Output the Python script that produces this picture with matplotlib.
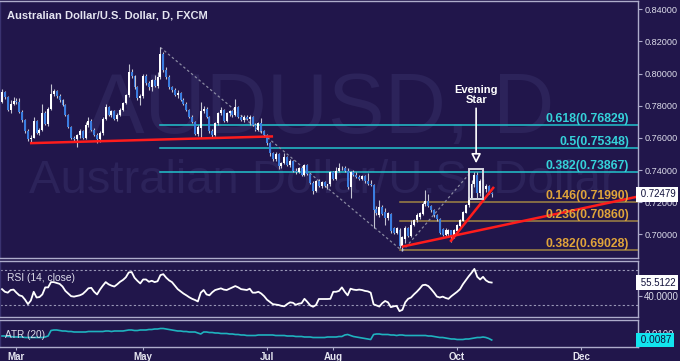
import matplotlib
matplotlib.use("Agg")
import matplotlib.pyplot as plt
import matplotlib.transforms as mtransforms
from matplotlib.patches import Rectangle
import numpy as np
import pandas as pd

# ------------------------------------------------------------------ data
start_date = "2015-02-23"
end_date = "2015-10-19"

opens = [0.7825, 0.7885, 0.7855, 0.7775, 0.7812, 0.7832, 0.7822, 0.7762, 0.7709, 0.7640,
         0.7590, 0.7602, 0.7705, 0.7632, 0.7648, 0.7752, 0.7685, 0.7780, 0.7875, 0.7892,
         0.7862, 0.7835, 0.7802, 0.7742, 0.7668, 0.7602, 0.7592, 0.7615, 0.7642, 0.7600,
         0.7680, 0.7705, 0.7650, 0.7620, 0.7590, 0.7630, 0.7720, 0.7790, 0.7742, 0.7765,
         0.7718, 0.7745, 0.7775, 0.7818, 0.7865, 0.8010, 0.7985, 0.7918, 0.7845, 0.7858,
         0.7985, 0.7940, 0.7915, 0.7958, 0.7922, 0.7978, 0.8120, 0.8022, 0.7978, 0.7916,
         0.7898, 0.7865, 0.7880, 0.7835, 0.7813, 0.7772, 0.7730, 0.7699, 0.7627, 0.7660,
         0.7770, 0.7781, 0.7730, 0.7640, 0.7620, 0.7690, 0.7752, 0.7776, 0.7705, 0.7752,
         0.7765, 0.7740, 0.7792, 0.7732, 0.7710, 0.7730, 0.7715, 0.7728, 0.7682, 0.7650,
         0.7690, 0.7642, 0.7615, 0.7565, 0.7503, 0.7466, 0.7500, 0.7425, 0.7445, 0.7480,
         0.7430, 0.7458, 0.7396, 0.7386, 0.7415, 0.7370, 0.7430, 0.7376, 0.7320, 0.7268,
         0.7330, 0.7300, 0.7325, 0.7300, 0.7310, 0.7385, 0.7345, 0.7392, 0.7410, 0.7415,
         0.7395, 0.7295, 0.7388, 0.7370, 0.7357, 0.7342, 0.7360, 0.7330, 0.7312, 0.7305,
         0.7160, 0.7120, 0.7170, 0.7140, 0.7100, 0.7125, 0.7040, 0.7010, 0.7030, 0.6930,
         0.6970, 0.7037, 0.6992, 0.7060, 0.7090, 0.7110, 0.7125, 0.7188, 0.7205, 0.7175,
         0.7150, 0.7120, 0.7095, 0.7035, 0.6998, 0.7000, 0.7025, 0.6992, 0.7022, 0.7052,
         0.7085, 0.7135, 0.7180, 0.7225, 0.7310, 0.7372, 0.7258, 0.7330, 0.7280, 0.7300,
         0.7255]
highs = [0.7905, 0.7892, 0.7862, 0.7833, 0.7855, 0.7846, 0.7850, 0.7775, 0.7716, 0.7652,
         0.7615, 0.7730, 0.7712, 0.7662, 0.7810, 0.7765, 0.7790, 0.7937, 0.7905, 0.7898,
         0.7870, 0.7842, 0.7810, 0.7750, 0.7675, 0.7612, 0.7625, 0.7655, 0.7650, 0.7700,
         0.7730, 0.7715, 0.7660, 0.7630, 0.7640, 0.7730, 0.7810, 0.7800, 0.7775, 0.7775,
         0.7752, 0.7785, 0.7825, 0.7870, 0.8060, 0.8025, 0.7992, 0.7925, 0.7870, 0.8000,
         0.8000, 0.7955, 0.7965, 0.7990, 0.8010, 0.8162, 0.8135, 0.8040, 0.7990, 0.7925,
         0.7910, 0.7895, 0.7888, 0.7845, 0.7820, 0.7780, 0.7740, 0.7705, 0.7680, 0.7825,
         0.7795, 0.7790, 0.7738, 0.7655, 0.7700, 0.7762, 0.7792, 0.7782, 0.7760, 0.7775,
         0.7772, 0.7843, 0.7800, 0.7740, 0.7740, 0.7742, 0.7740, 0.7738, 0.7695, 0.7698,
         0.7725, 0.7650, 0.7625, 0.7572, 0.7515, 0.7510, 0.7508, 0.7452, 0.7505, 0.7488,
         0.7468, 0.7462, 0.7410, 0.7420, 0.7422, 0.7438, 0.7436, 0.7382, 0.7330, 0.7335,
         0.7342, 0.7332, 0.7330, 0.7315, 0.7395, 0.7392, 0.7420, 0.7441, 0.7425, 0.7422,
         0.7410, 0.7395, 0.7398, 0.7385, 0.7372, 0.7368, 0.7366, 0.7380, 0.7340, 0.7312,
         0.7175, 0.7215, 0.7182, 0.7165, 0.7138, 0.7132, 0.7048, 0.7045, 0.7038, 0.6992,
         0.7050, 0.7045, 0.7090, 0.7098, 0.7135, 0.7138, 0.7200, 0.7275, 0.7250, 0.7182,
         0.7160, 0.7128, 0.7100, 0.7040, 0.7040, 0.7035, 0.7030, 0.7032, 0.7065, 0.7095,
         0.7148, 0.7188, 0.7238, 0.7340, 0.7386, 0.7385, 0.7345, 0.7342, 0.7312, 0.7306,
         0.7262]
lows = [0.7815, 0.7840, 0.7765, 0.7755, 0.7805, 0.7812, 0.7755, 0.7700, 0.7630, 0.7578,
        0.7567, 0.7598, 0.7625, 0.7620, 0.7640, 0.7678, 0.7675, 0.7772, 0.7860, 0.7850,
        0.7825, 0.7795, 0.7735, 0.7660, 0.7590, 0.7575, 0.7544, 0.7600, 0.7590, 0.7595,
        0.7665, 0.7640, 0.7610, 0.7568, 0.7575, 0.7620, 0.7710, 0.7735, 0.7732, 0.7710,
        0.7705, 0.7738, 0.7765, 0.7810, 0.7855, 0.7975, 0.7905, 0.7835, 0.7805, 0.7848,
        0.7930, 0.7900, 0.7892, 0.7915, 0.7910, 0.7965, 0.8010, 0.7965, 0.7905, 0.7885,
        0.7858, 0.7850, 0.7828, 0.7805, 0.7765, 0.7722, 0.7690, 0.7615, 0.7610, 0.7600,
        0.7755, 0.7722, 0.7630, 0.7605, 0.7612, 0.7680, 0.7742, 0.7698, 0.7698, 0.7735,
        0.7730, 0.7735, 0.7725, 0.7702, 0.7700, 0.7708, 0.7680, 0.7675, 0.7642, 0.7640,
        0.7630, 0.7608, 0.7558, 0.7490, 0.7458, 0.7455, 0.7405, 0.7415, 0.7435, 0.7422,
        0.7420, 0.7390, 0.7378, 0.7380, 0.7365, 0.7362, 0.7370, 0.7315, 0.7250, 0.7262,
        0.7295, 0.7288, 0.7295, 0.7285, 0.7300, 0.7340, 0.7338, 0.7385, 0.7398, 0.7385,
        0.7280, 0.7223, 0.7362, 0.7350, 0.7338, 0.7335, 0.7322, 0.7305, 0.7298, 0.7037,
        0.7118, 0.7105, 0.7120, 0.7058, 0.7090, 0.7010, 0.7002, 0.7000, 0.6915, 0.6896,
        0.6945, 0.6985, 0.6985, 0.7050, 0.7078, 0.7098, 0.7118, 0.7175, 0.7168, 0.7140,
        0.7110, 0.7085, 0.7000, 0.6990, 0.6985, 0.6982, 0.6955, 0.6980, 0.7015, 0.7045,
        0.7080, 0.7130, 0.7172, 0.7218, 0.7295, 0.7228, 0.7240, 0.7270, 0.7262, 0.7250,
        0.7235]
closes = [0.7885, 0.7855, 0.7775, 0.7812, 0.7832, 0.7822, 0.7762, 0.7709, 0.7640, 0.7590,
          0.7602, 0.7705, 0.7632, 0.7648, 0.7752, 0.7685, 0.7780, 0.7875, 0.7892, 0.7862,
          0.7835, 0.7802, 0.7742, 0.7668, 0.7602, 0.7592, 0.7615, 0.7642, 0.7600, 0.7680,
          0.7705, 0.7650, 0.7620, 0.7590, 0.7630, 0.7720, 0.7790, 0.7742, 0.7765, 0.7718,
          0.7745, 0.7775, 0.7818, 0.7865, 0.8010, 0.7985, 0.7918, 0.7845, 0.7858, 0.7985,
          0.7940, 0.7915, 0.7958, 0.7922, 0.7978, 0.8120, 0.8022, 0.7978, 0.7916, 0.7898,
          0.7865, 0.7880, 0.7835, 0.7813, 0.7772, 0.7730, 0.7699, 0.7627, 0.7668, 0.7770,
          0.7781, 0.7730, 0.7640, 0.7620, 0.7690, 0.7752, 0.7776, 0.7705, 0.7752, 0.7765,
          0.7740, 0.7792, 0.7732, 0.7710, 0.7730, 0.7715, 0.7728, 0.7682, 0.7650, 0.7690,
          0.7642, 0.7615, 0.7565, 0.7503, 0.7466, 0.7500, 0.7425, 0.7445, 0.7480, 0.7430,
          0.7458, 0.7396, 0.7386, 0.7415, 0.7370, 0.7430, 0.7376, 0.7320, 0.7268, 0.7330,
          0.7300, 0.7325, 0.7300, 0.7310, 0.7385, 0.7345, 0.7392, 0.7410, 0.7415, 0.7395,
          0.7295, 0.7388, 0.7370, 0.7357, 0.7342, 0.7360, 0.7330, 0.7312, 0.7305, 0.7151,
          0.7130, 0.7170, 0.7128, 0.7100, 0.7130, 0.7018, 0.7010, 0.7040, 0.6930, 0.6985,
          0.7037, 0.6992, 0.7060, 0.7090, 0.7120, 0.7130, 0.7188, 0.7205, 0.7175, 0.7150,
          0.7120, 0.7095, 0.7008, 0.6998, 0.7030, 0.7027, 0.6992, 0.7027, 0.7058, 0.7089,
          0.7140, 0.7182, 0.7230, 0.7316, 0.7372, 0.7258, 0.7330, 0.7280, 0.7300, 0.7255,
          0.7248]

rsi_values = [48, 45, 44, 47, 47.5, 44, 41, 40, 36, 31,
              35, 45, 38.5, 39, 42, 50, 50, 56, 56, 55,
              54, 51, 46, 43, 40, 39.5, 40.2, 41, 42.5, 45.5,
              49, 49.5, 45, 42, 47.5, 52, 56, 53.5, 52, 51,
              53.5, 56.4, 58.5, 61.5, 67, 67.5, 61, 57.5, 54.5, 59,
              59, 56.4, 57.5, 56, 57, 64, 65, 61, 58, 56,
              52, 48, 45.5, 43, 41, 38.8, 37, 35.7, 34, 44,
              47, 42, 41, 44.5, 47, 48, 48.9, 47.5, 47, 48.5,
              50, 51.5, 50, 48, 47.5, 47, 48.5, 44, 44, 45,
              43, 40, 36, 33.5, 31, 30.5, 30, 29, 28.5, 31,
              33, 32.5, 30.2, 31.5, 32, 37, 33.5, 29.5, 28, 30,
              36.8, 36.8, 36.8, 36.8, 37, 45, 45, 46, 50, 45,
              41, 48.5, 47.5, 47, 47.5, 47, 46, 45.5, 44, 30.8,
              29.5, 28.2, 32, 34.5, 33, 27.5, 28.5, 29, 23, 24.5,
              33, 37, 38.5, 42, 45, 48.5, 52.5, 53, 51.5, 48,
              44, 39.5, 38.5, 39.5, 38, 37, 40, 42.5, 45, 48,
              53.5, 58, 62.5, 66.5, 71, 62, 59, 62, 58, 56,
              55.5122]

atr_values = [0.0095, 0.0095, 0.0094, 0.0094, 0.0093, 0.0093,
              0.0093, 0.0093, 0.0092, 0.0092, 0.0092, 0.0092, 0.0092, 0.0092, 0.0092, 0.0093, 0.0095,
              0.0106, 0.0107, 0.0107, 0.0106, 0.0105, 0.0105, 0.0104, 0.0104, 0.0103, 0.0103, 0.0103,
              0.0103, 0.0103, 0.0104, 0.0104, 0.0104, 0.0104, 0.0104, 0.0104, 0.0105, 0.0105,
              0.0104, 0.0105, 0.0105, 0.0105, 0.0105, 0.0106, 0.0107, 0.0107, 0.0106, 0.0106,
              0.0107, 0.0107, 0.0107, 0.0108, 0.0108, 0.0109, 0.0109, 0.0110, 0.0110, 0.0109,
              0.0108, 0.0107, 0.0106, 0.0105, 0.0105, 0.0104, 0.0104, 0.0103, 0.0103, 0.0103,
              0.0101, 0.0099, 0.0103, 0.0103, 0.0102, 0.0102, 0.0101, 0.0101, 0.0100, 0.0100,
              0.0100, 0.0099, 0.0099, 0.0098, 0.0098, 0.0097, 0.0097, 0.0096, 0.0096, 0.0096,
              0.0096, 0.0097, 0.0097, 0.0097, 0.0097, 0.0097, 0.0097, 0.0096, 0.0096, 0.0096,
              0.0096, 0.0095, 0.0095, 0.0095, 0.0094, 0.0094, 0.0094, 0.0093, 0.0093, 0.0093,
              0.0092, 0.0092, 0.0092, 0.0092, 0.0092, 0.0093, 0.0093, 0.0093, 0.0093, 0.0094,
              0.0094, 0.0097, 0.0098, 0.0096, 0.0094, 0.0093, 0.0092, 0.0091, 0.0090, 0.0089,
              0.0088, 0.0098, 0.0099, 0.0099, 0.0098, 0.0098, 0.0098, 0.0097, 0.0097, 0.0096,
              0.0097, 0.0097, 0.0096, 0.0096, 0.0096, 0.0096, 0.0096, 0.0096, 0.0096, 0.0096,
              0.0095, 0.0095, 0.0094, 0.0093, 0.0092, 0.0092, 0.0091, 0.0090, 0.0089, 0.0089,
              0.0088, 0.0088, 0.0088, 0.0089, 0.0089, 0.0090, 0.0091, 0.0092, 0.0092, 0.0093,
              0.0092, 0.0090, 0.0087]

month_labels = ["Mar", "May", "Jul", "Aug", "Oct", "Dec"]
month_starts = ["2015-03-02", "2015-05-01", "2015-07-01", "2015-08-03", "2015-10-01", "2015-12-01"]

price_ticks = [0.70, 0.72, 0.74, 0.76, 0.78, 0.80, 0.82, 0.84]

fib_down_ratios = ["0.618", "0.5", "0.382"]
fib_down_levels = [0.76829, 0.75348, 0.73867]
fib_ext_ratios = ["0.146", "0.236", "0.382"]
fib_ext_levels = [0.71990, 0.70860, 0.69028]

# drawing tools: (bar index, price)
red_line_1 = [(9.7, 0.7567), (94.1, 0.7609)]
red_line_2 = [(138.8, 0.6923), (220.8, 0.7235)]
red_line_3 = [(155.6, 0.6954), (170.8, 0.7295)]
oct_high = (162.5, 0.7382)
pattern_box = (162.2, 0.7220, 167.0, 0.7405)
arrow_bar = 164.6
arrow_top, arrow_tip = 0.7784, 0.7442
pattern_text_price = 0.7803

last_price = "0.72479"
last_price_value = 0.72479
rsi_last = "55.5122"
rsi_levels = [70, 30]
atr_last = "0.0087"
atr_last_value = 0.0087
atr_tick = 0.0100

# ------------------------------------------------------------------ style
BG = "#21164b"
WM = "#2c235a"
FRAME = "#aeaccb"
TXT = "#dcdcea"
BLUE = "#3b7de0"
WICK = "#c4c4d2"
CYAN = "#22c3cc"
CYAN_TXT = "#35d2da"
GOLD = "#a08444"
GOLD_TXT = "#e0a43a"
RED = "#ff1c1c"
DASH = "#8a8aa2"
FONT = "Liberation Sans"

W, H = 680, 361
fig = plt.figure(figsize=(W / 100, H / 100), dpi=100, facecolor=BG)


def rect(x0, y0, x1, y1):
    return [x0 / W, 1 - y1 / H, (x1 - x0) / W, (y1 - y0) / H]


ax = fig.add_axes(rect(0, 0.5, 638, 258))
ax_rsi = fig.add_axes(rect(0, 261, 638, 317.3), sharex=ax)
ax_atr = fig.add_axes(rect(0, 319.5, 638, 346.7), sharex=ax)

n = len(closes)
x = np.arange(n)
o = np.array(opens); h = np.array(highs); l = np.array(lows); c = np.array(closes)

for a in (ax, ax_rsi, ax_atr):
    a.set_facecolor("none")
    for s in a.spines.values():
        s.set_color(FRAME)
        s.set_linewidth(1.0)
    a.spines["left"].set_color("#3a3270")
    a.tick_params(axis="x", which="both", bottom=False, labelbottom=False)

ax.set_xlim(-0.7, 220.8)
ax.set_ylim(0.6853, 0.8454)

# watermark
ax.text(0.503, 0.4854, "AUDUSD, D", transform=ax.transAxes, ha="center", va="baseline",
        fontsize=61, color=WM, family=FONT, zorder=0.1)
ax.text(0.506, 0.2513, "Australian Dollar/U.S. Dollar", transform=ax.transAxes, ha="center",
        va="baseline", fontsize=34, color=WM, family=FONT, zorder=0.1)

# candles
up = c >= o
ax.vlines(x, l, h, color=WICK, linewidth=0.8, zorder=3)
ax.bar(x[up], c[up] - o[up], bottom=o[up], width=0.68, color="white", linewidth=0, zorder=4)
ax.bar(x[~up], c[~up] - o[~up], bottom=o[~up], width=0.68, color=BLUE, linewidth=0, zorder=4)

# fibonacci retracement (May high -> Sep low)
hi_bar = int(np.argmax(h)); lo_bar = int(np.argmin(l))
xr = ax.get_xlim()[1]
lbl_tr = mtransforms.blended_transform_factory(ax.transAxes, ax.transData)
for r, v in zip(fib_down_ratios, fib_down_levels):
    ax.plot([hi_bar, xr], [v, v], color=CYAN, lw=1.1, zorder=2)
    ax.text(629 / 638, v, f"{r}({v:.5f})", transform=lbl_tr, ha="right", va="bottom",
            fontsize=8.8, fontweight="bold", color=CYAN_TXT, family=FONT, zorder=6)
for r, v in zip(fib_ext_ratios, fib_ext_levels):
    ax.plot([lo_bar - 1, xr], [v, v], color=GOLD, lw=1.1, zorder=2)
    ax.text(629 / 638, v, f"{r}({v:.5f})", transform=lbl_tr, ha="right", va="bottom",
            fontsize=8.8, fontweight="bold", color=GOLD_TXT, family=FONT, zorder=6)

# dashed fib anchors
ax.plot([hi_bar, lo_bar], [h[hi_bar], l[lo_bar]], color=DASH, lw=0.9, ls=(0, (2, 2)), zorder=2.5)
ax.plot([lo_bar, oct_high[0]], [l[lo_bar], oct_high[1]], color=DASH, lw=0.9, ls=(0, (2, 2)), zorder=2.5)

# trend lines
for seg in (red_line_1, red_line_2, red_line_3):
    (x0, y0), (x1, y1) = seg
    ax.plot([x0, x1], [y0, y1], color=RED, lw=1.8, zorder=5, solid_capstyle="butt")

# evening star box + arrow + text
bx0, by0, bx1, by1 = pattern_box
ax.add_patch(Rectangle((bx0, by0), bx1 - bx0, by1 - by0, fill=False, ec="#d6d6e0", lw=1.4, zorder=6))
ax.annotate("", xy=(arrow_bar, arrow_tip), xytext=(arrow_bar, arrow_top),
            arrowprops=dict(arrowstyle="-|>,head_length=0.55,head_width=0.28", ec="white", fc=BG,
                            lw=1.2, shrinkA=0, shrinkB=0), zorder=6)
ax.text(arrow_bar, pattern_text_price, "Evening\nStar", ha="center", va="bottom", color="white",
        fontsize=8, fontweight="bold", family=FONT, linespacing=1.05, zorder=6)

# title
fig.text(7 / W, 1 - 15 / H, "Australian Dollar/U.S. Dollar, D, FXCM", ha="left", va="center",
         fontsize=8, fontweight="bold", color="#e4e4f0", family=FONT)

# price axis
ax.yaxis.tick_right()
ax.set_yticks(price_ticks)
ax.set_yticklabels([f"{t:.5f}" for t in price_ticks])
ax.tick_params(axis="y", colors=FRAME, labelcolor=TXT, labelsize=6.6, length=3, width=0.8, pad=1.5)
for t in ax.get_yticklabels():
    t.set_family(FONT)
ax.text(1.0, last_price_value, " " + last_price, transform=lbl_tr, ha="left", va="center",
        fontsize=7, color="#10103a", family=FONT, zorder=10, clip_on=False,
        bbox=dict(boxstyle="square,pad=0.22", fc="white", ec="none"))

# RSI
ax_rsi.set_ylim(16, 80)
ax_rsi.plot(x, rsi_values, color="white", lw=1.3, zorder=3)
for lev in rsi_levels:
    ax_rsi.axhline(lev, color="#9896b6", lw=0.8, ls=(0, (2, 2)), zorder=1)
ax_rsi.text(7 / 638, 0.70, "RSI (14, close)", transform=ax_rsi.transAxes, ha="left", va="center",
            fontsize=7.4, color=TXT, family=FONT)
ax_rsi.yaxis.tick_right()
ax_rsi.set_yticks([40, float(rsi_last)])
ax_rsi.set_yticklabels(["40.0000", ""])
ax_rsi.tick_params(axis="y", colors=FRAME, labelcolor=TXT, labelsize=7, length=3, width=0.8, pad=1.5)
for t in ax_rsi.get_yticklabels():
    t.set_family(FONT)
rsi_tr = mtransforms.blended_transform_factory(ax_rsi.transAxes, ax_rsi.transData)
ax_rsi.text(1.0, float(rsi_last), " " + rsi_last, transform=rsi_tr, ha="left", va="center",
            fontsize=7, color="#10103a", family=FONT, zorder=10, clip_on=False,
            bbox=dict(boxstyle="square,pad=0.22", fc="white", ec="none"))

# ATR
ax_atr.set_ylim(0.00736, 0.0128)
ax_atr.plot(x, atr_values, color="#1fb3bf", lw=1.2, zorder=3)
ax_atr.text(5 / 638, 0.42, "ATR (20)", transform=ax_atr.transAxes, ha="left", va="center",
            fontsize=7.2, color=TXT, family=FONT)
ax_atr.yaxis.tick_right()
ax_atr.set_yticks([atr_tick, atr_last_value])
ax_atr.set_yticklabels([f"{atr_tick:.4f}", ""])
ax_atr.tick_params(axis="y", colors=FRAME, labelcolor=TXT, labelsize=7, length=3, width=0.8, pad=1.5)
for t in ax_atr.get_yticklabels():
    t.set_family(FONT)
atr_tr = mtransforms.blended_transform_factory(ax_atr.transAxes, ax_atr.transData)
ax_atr.text(1.0, atr_last_value, " " + atr_last, transform=atr_tr, ha="left", va="center",
            fontsize=7.2, color="#10103a", family=FONT, zorder=10, clip_on=False,
            bbox=dict(boxstyle="square,pad=0.22", fc="#12e4ee", ec="none"))

# month axis
month_idx = [len(pd.bdate_range(start_date, d)) - 1 for d in month_starts]
ax_atr.set_xticks(month_idx)
ax_atr.set_xticklabels(month_labels)
ax_atr.tick_params(axis="x", which="both", bottom=True, labelbottom=True, length=2,
                   colors=FRAME, labelcolor="#e6e6f0", labelsize=7, pad=2)
for t in ax_atr.get_xticklabels():
    t.set_family(FONT)
    t.set_fontweight("bold")

fig.savefig("out.png", dpi=100, facecolor=BG)
